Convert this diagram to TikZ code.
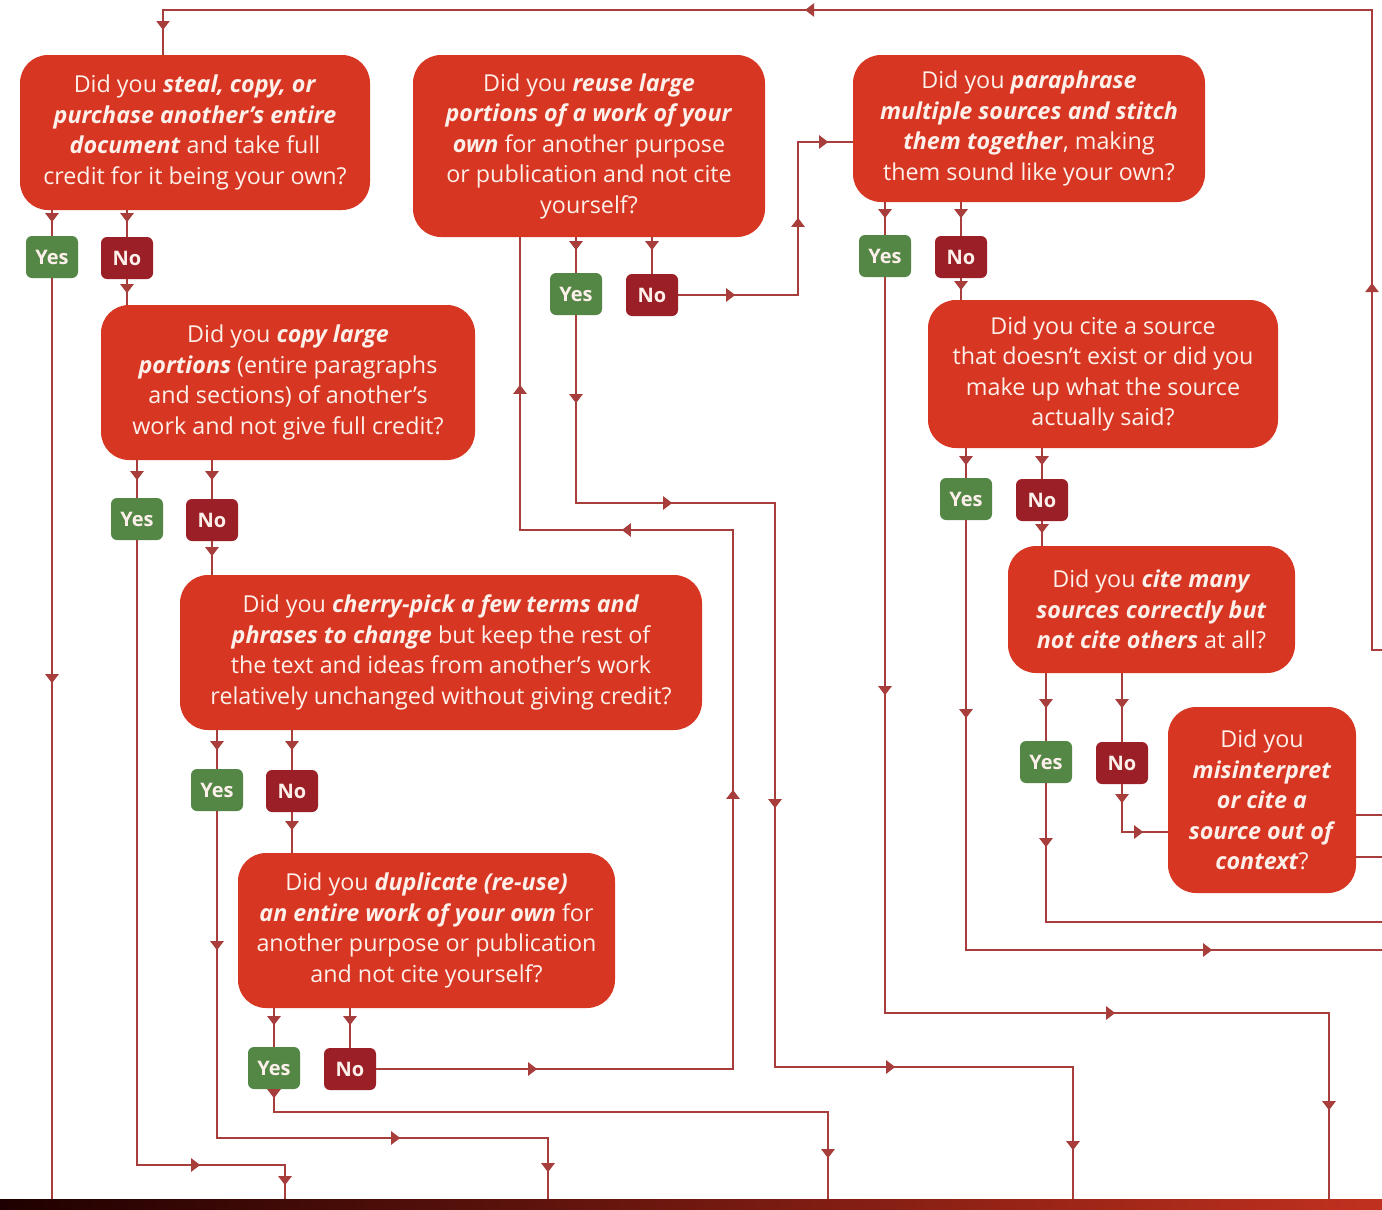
\documentclass[tikz,border=0pt]{standalone}
\usepackage{fontspec}
\setmainfont{Open Sans}
\usetikzlibrary{arrows.meta,decorations.markings}
\definecolor{boxred}{HTML}{D73622}
\definecolor{yesg}{HTML}{548746}
\definecolor{nored}{HTML}{9A1F27}
\definecolor{wirec}{HTML}{A83E3B}
\definecolor{btxt}{HTML}{FDEFE9}
\newcommand\emx[1]{\textbf{\textit{#1}}}
\begin{document}
\begin{tikzpicture}[x=1pt,y=-1pt,
 q/.style={fill=boxred, rounded corners=28pt, text=btxt, align=center, inner sep=0pt,
   font=\fontsize{23.3}{30.5}\selectfont},
 yesbox/.style={fill=yesg, rounded corners=6pt, text=btxt, minimum width=52pt,
   minimum height=42pt, inner sep=0pt, font=\fontsize{20}{24}\selectfont\bfseries},
 nobox/.style={yesbox, fill=nored},
 conn/.style={draw=wirec, line width=2.2pt},
 marr/.style={postaction={decorate,decoration={markings,
   mark=at position #1 with {\arrow[color=wirec]{Triangle[width=13pt,length=9pt]}}}}}
]
\fill[white] (0,0) rectangle (1382,1210);
\useasboundingbox (0,0) rectangle (1382,1210);

% question boxes
\node[q, minimum width=350pt, minimum height=155pt] (qA) at (195,132.5)
 {Did you \emx{steal, copy, or}\\ \emx{purchase another's entire}\\ \emx{document} and take full\\ credit for it being your own?};
\node[q, minimum width=374pt, minimum height=155pt] (qB) at (288,382.5)
 {Did you \emx{copy large}\\ \emx{portions} (entire paragraphs\\ and sections) of another's\\ work and not give full credit?};
\node[q, minimum width=522pt, minimum height=155pt] (qC) at (441,652.5)
 {Did you \emx{cherry-pick a few terms and}\\ \emx{phrases to change} but keep the rest of\\ the text and ideas from another's work\\ relatively unchanged without giving credit?};
\node[q, minimum width=377pt, minimum height=155pt] (qD) at (426.5,930.5)
 {Did you \emx{duplicate (re-use)}\\ \emx{an entire work of your own} for\\ another purpose or publication\\ and not cite yourself?};
\node[q, minimum width=352pt, minimum height=182pt] (qE) at (589,146)
 {Did you \emx{reuse large}\\ \emx{portions of a work of your}\\ \emx{own} for another purpose\\ or publication and not cite\\ yourself?};
\node[q, minimum width=352pt, minimum height=147pt] (qF) at (1029,128.5)
 {Did you \emx{paraphrase}\\ \emx{multiple sources and stitch}\\ \emx{them together}, making\\ them sound like your own?};
\node[q, minimum width=350pt, minimum height=148pt] (qG) at (1103,374)
 {Did you cite a source\\ that doesn't exist or did you\\ make up what the source\\ actually said?};
\node[q, minimum width=287pt, minimum height=127pt] (qH) at (1151.5,609.5)
 {Did you \emx{cite many}\\ \emx{sources correctly but}\\ \emx{not cite others} at all?};
\node[q, minimum width=188pt, minimum height=186pt] (qI) at (1262,800)
 {Did you\\ \emx{misinterpret}\\ \emx{or cite a}\\ \emx{source out of}\\ \emx{context}?};

% yes / no labels
\node[yesbox] (yA) at (52,257) {Yes};   \node[nobox] (nA) at (127,258) {No};
\node[yesbox] (yB) at (137,519) {Yes};  \node[nobox] (nB) at (212,520) {No};
\node[yesbox] (yC) at (217,790) {Yes};  \node[nobox] (nC) at (292,791) {No};
\node[yesbox] (yD) at (274,1068) {Yes}; \node[nobox] (nD) at (350,1069) {No};
\node[yesbox] (yE) at (576,294) {Yes};  \node[nobox] (nE) at (652,295) {No};
\node[yesbox] (yF) at (885,256) {Yes};  \node[nobox] (nF) at (961,257) {No};
\node[yesbox] (yG) at (966,499) {Yes};  \node[nobox] (nG) at (1042,500) {No};
\node[yesbox] (yH) at (1046,762) {Yes}; \node[nobox] (nH) at (1122,763) {No};

% top return rail
\draw[conn, marr=377pt, marr=1217pt, marr=1879pt]
  (1382,650) -- (1372,650) -- (1372,10) -- (163,10) -- (qA.north -| 163,0);

% A
\draw[conn, marr=12pt] (yA.north |- qA.south) -- (yA.north);
\draw[conn, marr=12pt] (nA.north |- qA.south) -- (nA.north);
\draw[conn, marr=14pt] (nA.south) -- (nA.south |- qB.north);
\draw[conn, marr=405pt] (yA.south) -- (yA.south |- 0,1200);

% B
\draw[conn, marr=20pt] (yB.north |- qB.south) -- (yB.north);
\draw[conn, marr=20pt] (nB.north |- qB.south) -- (nB.north);
\draw[conn, marr=15pt] (nB.south) -- (nB.south |- qC.north);
\draw[conn, marr=688pt, marr=793pt] (yB.south) -- (yB.south |- 0,1165) -- (285,1165) -- (285,1200);

% C
\draw[conn, marr=20pt] (yC.north |- qC.south) -- (yC.north);
\draw[conn, marr=20pt] (nC.north |- qC.south) -- (nC.north);
\draw[conn, marr=18pt] (nC.south) -- (nC.south |- qD.north);
\draw[conn, marr=139pt, marr=510pt, marr=692pt] (yC.south) -- (yC.south |- 0,1138) -- (548,1138) -- (548,1200);

% D
\draw[conn, marr=17pt] (yD.north |- qD.south) -- (yD.north);
\draw[conn, marr=17pt] (nD.north |- qD.south) -- (nD.north);
\draw[conn, marr=9pt, marr=623pt] (yD.south) -- (yD.south |- 0,1112) -- (828,1112) -- (828,1200);
\draw[conn, marr=161pt, marr=636pt, marr=1007pt, marr=1254pt]
  (nD.east) -- (nD.east -| 733,0) -- (733,530) -- (520,530) -- (qE.south -| 520,0);

% E
\draw[conn, marr=13pt] (yE.north |- qE.south) -- (yE.north);
\draw[conn, marr=13pt] (nE.north |- qE.south) -- (nE.north);
\draw[conn, marr=57pt, marr=197pt, marr=303pt]
  (nE.east) -- (nE.east -| 798,0) -- (798,142) -- (qF.west |- 0,142);
\draw[conn, marr=88pt, marr=284pt, marr=692pt, marr=1071pt, marr=1332pt]
  (yE.south) -- (yE.south |- 0,503) -- (775,503) -- (775,1067) -- (1073,1067) -- (1073,1200);

% F
\draw[conn, marr=16pt] (yF.north |- qF.south) -- (yF.north);
\draw[conn, marr=16pt] (nF.north |- qF.south) -- (nF.north);
\draw[conn, marr=12pt] (nF.south) -- (nF.south |- qG.north);
\draw[conn, marr=418pt, marr=966pt, marr=1277pt]
  (yF.south) -- (yF.south |- 0,1013) -- (1329,1013) -- (1329,1200);

% G
\draw[conn, marr=17pt] (yG.north |- qG.south) -- (yG.north);
\draw[conn, marr=17pt] (nG.north |- qG.south) -- (nG.north);
\draw[conn, marr=12pt] (nG.south) -- (nG.south |- qH.north);
\draw[conn, marr=198pt, marr=676pt] (yG.south) -- (yG.south |- 0,950) -- (1382,950);

% H
\draw[conn, marr=35pt] (yH.north |- qH.south) -- (yH.north);
\draw[conn, marr=35pt] (nH.north |- qH.south) -- (nH.north);
\draw[conn, marr=19pt, marr=69pt] (nH.south) -- (nH.south |- 0,832) -- (qI.west |- 0,832);
\draw[conn, marr=64pt] (yH.south) -- (yH.south |- 0,922) -- (1382,922);

% I
\draw[conn] (qI.east |- 0,815) -- (1382,815);
\draw[conn] (qI.east |- 0,857) -- (1382,857);

% bottom bar
\shade[left color=black!80!red!60!black, middle color=nored, right color=boxred!90!black]
  (0,1199) rectangle (1382,1210);
\end{tikzpicture}
\end{document}
